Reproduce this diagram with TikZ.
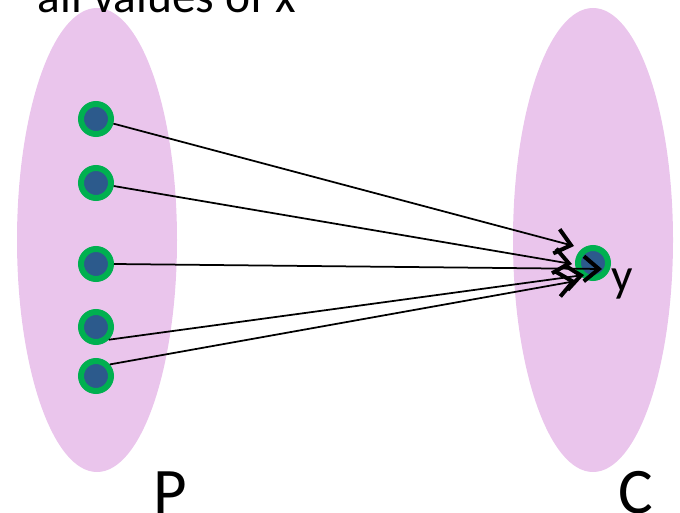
\documentclass[tikz,border=0pt]{standalone}
\usepackage{fontspec}
\setmainfont{Carlito}
\usetikzlibrary{arrows.meta}
\definecolor{setpink}{RGB}{234,197,236}
\definecolor{dotgreen}{RGB}{0,176,80}
\definecolor{dotblue}{RGB}{44,90,140}
\tikzset{
  elem/.style={circle, fill=dotblue, draw=dotgreen, line width=0.12cm, minimum size=0.6cm, inner sep=0pt},
  mapsto/.style={line width=0.035cm, -{Straight Barb[length=0.3cm,width=0.5cm,line width=0.08cm]}},
  biglabel/.style={font=\fontsize{37}{40}\selectfont, inner sep=0pt, anchor=base},
  smalllabel/.style={font=\fontsize{27}{30}\selectfont, inner sep=0pt}
}
\begin{document}
\begin{tikzpicture}[x=0.02cm, y=-0.02cm]
		\useasboundingbox (0,0) rectangle (680,513);
		%Ensembles
		\fill[setpink] (97,240) ellipse [x radius=80, y radius=232];
		\fill[setpink] (593,240) ellipse [x radius=80, y radius=232];
		%Textes
		\node[smalllabel, anchor=base] (allx) at (167,13) {all values of x};
		\node[biglabel] (P) at (170,513) {P};
		\node[biglabel] (C) at (636,513) {C};
		%Elements de P
		\node[elem] (x1) at (96,119) {};
		\node[elem] (x2) at (96,183) {};
		\node[elem] (x3) at (96,264) {};
		\node[elem] (x4) at (96,327) {};
		\node[elem] (x5) at (96,376) {};
		%Image
		\node[elem] (y) at (593,263) {};
		\node[smalllabel, anchor=base west] (ylab) at (611,292) {y};
		%Bouts des fleches
		\coordinate (e1) at (574,246);
		\coordinate (e2) at (572,264);
		\coordinate (e3) at (602,269);
		\coordinate (e4) at (584,275);
		\coordinate (e5) at (576,281);
		%Fleches
		\draw[mapsto] (x1) -- (e1);
		\draw[mapsto] (x2) -- (e2);
		\draw[mapsto] (x3.east) -- (e3);
		\draw[mapsto] (x4.-45) -- (e4);
		\draw[mapsto] (x5.40) -- (e5);
		\end{tikzpicture}
\end{document}
